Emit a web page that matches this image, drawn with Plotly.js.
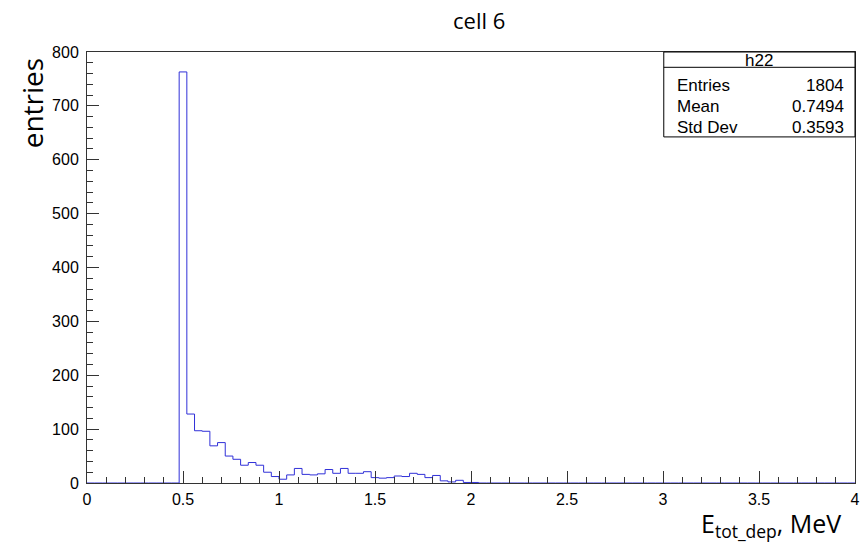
<!DOCTYPE html>
<html>
<head>
<meta charset="utf-8">
<script src="https://cdn.plot.ly/plotly-3.0.1.min.js"></script>
<style>html,body{margin:0;padding:0;background:#fff;}#chart{width:861px;height:544px;}</style>
</head>
<body>
<div id="chart"></div>
<script>
// Histogram h22: 100 bins over [0, 4]
const xMin = 0;
const xMax = 4;
const nBins = 100;
const counts = [
  0,0,0,0,0,0,0,0,0,0,
  0,0,763,128,97,96,69,75,50,44,
  33,38,33,20,12,7,15,27,16,15,
  17,25,18,27,18,18,21,10,9,10,
  13,12,18,16,10,14,4,2,5,1,
  1,0,0,0,0,0,0,0,0,0,
  0,0,0,0,0,0,0,0,0,0,
  0,0,0,0,0,0,0,0,0,0,
  0,0,0,0,0,0,0,0,0,0,
  0,0,0,0,0,0,0,0,0,0
];
const statLabels = ["Entries", "Mean", "Std Dev"];
const statValues = ["1804", "0.7494", "0.3593"];
const histName = "h22";
const titleText = "cell 6";
const xTitle = "E<sub>tot_dep</sub>, MeV";
const yTitle = "entries";

const bw = (xMax - xMin) / nBins;
const xs = [], ys = [];
for (let i = 0; i < nBins; i++) { xs.push(xMin + i * bw); ys.push(counts[i]); }
xs.push(xMax); ys.push(counts[nBins - 1]);

const trace = {
  x: xs, y: ys, type: 'scatter', mode: 'lines',
  line: {shape: 'hv', color: '#3030d8', width: 1},
  hoverinfo: 'skip', showlegend: false, cliponaxis: false
};

const tickFont = {family: 'Liberation Sans, Arial, sans-serif', size: 16, color: '#000'};
const statFont = {family: 'Liberation Sans, Arial, sans-serif', size: 17, color: '#000'};

const annotations = [
  {text: titleText, x: 0.5104, y: 1.074, xref: 'paper', yref: 'paper', xanchor: 'center', yanchor: 'middle', showarrow: false,
   font: {family: 'Open Sans, sans-serif', size: 22, color: '#000'}},
  {text: histName, x: 0.8755, y: 0.981, xref: 'paper', yref: 'paper', xanchor: 'center', yanchor: 'middle', showarrow: false, font: statFont},
  {text: yTitle, x: -0.0716, y: 0.99, xref: 'paper', yref: 'paper', xanchor: 'center', yanchor: 'top', textangle: -90, showarrow: false,
   font: {family: 'Open Sans, sans-serif', size: 28, color: '#000'}},
  {text: xTitle, x: 0.984, y: -0.097, xref: 'paper', yref: 'paper', xanchor: 'right', yanchor: 'middle', showarrow: false,
   font: {family: 'Open Sans, sans-serif', size: 25, color: '#000'}}
];
const rowY = [0.923, 0.8735, 0.8237];
statLabels.forEach((lab, i) => {
  annotations.push({text: lab, x: 0.7656, y: rowY[i], xref: 'paper', yref: 'paper', xanchor: 'left', yanchor: 'middle', showarrow: false, font: statFont});
  annotations.push({text: statValues[i], x: 0.9883, y: rowY[i], xref: 'paper', yref: 'paper', xanchor: 'right', yanchor: 'middle', showarrow: false, font: statFont});
});

const layout = {
  width: 861, height: 544,
  margin: {l: 87, r: 6, t: 52, b: 61},
  paper_bgcolor: '#fff', plot_bgcolor: '#fff',
  xaxis: {
    range: [xMin, xMax], dtick: 0.5, tick0: 0, ticks: 'inside', ticklen: 12, tickcolor: '#333', tickwidth: 1,
    minor: {dtick: 0.1, ticks: 'inside', ticklen: 6, tickcolor: '#333'},
    showgrid: false, zeroline: false, showline: true, linecolor: '#333', linewidth: 1, mirror: true,
    tickfont: tickFont, fixedrange: true, ticklabelstandoff: 2
  },
  yaxis: {
    range: [0, 800], dtick: 100, tick0: 0, ticks: 'inside', ticklen: 12, tickcolor: '#333', tickwidth: 1,
    minor: {dtick: 20, ticks: 'inside', ticklen: 6, tickcolor: '#333'},
    showgrid: false, zeroline: false, showline: true, linecolor: '#333', linewidth: 1, mirror: true,
    tickfont: tickFont, fixedrange: true, ticklabelstandoff: 4
  },
  shapes: [
    {type: 'rect', xref: 'paper', yref: 'paper', x0: 0.751, x1: 1.0, y0: 0.803, y1: 1.0,
     fillcolor: '#fff', line: {color: '#000', width: 1}, layer: 'above'},
    {type: 'line', xref: 'paper', yref: 'paper', x0: 0.751, x1: 1.0, y0: 0.9645, y1: 0.9645,
     line: {color: '#000', width: 1}, layer: 'above'}
  ],
  annotations: annotations,
  showlegend: false
};

Plotly.newPlot('chart', [trace], layout, {displayModeBar: false, staticPlot: true});
</script>
</body>
</html>
